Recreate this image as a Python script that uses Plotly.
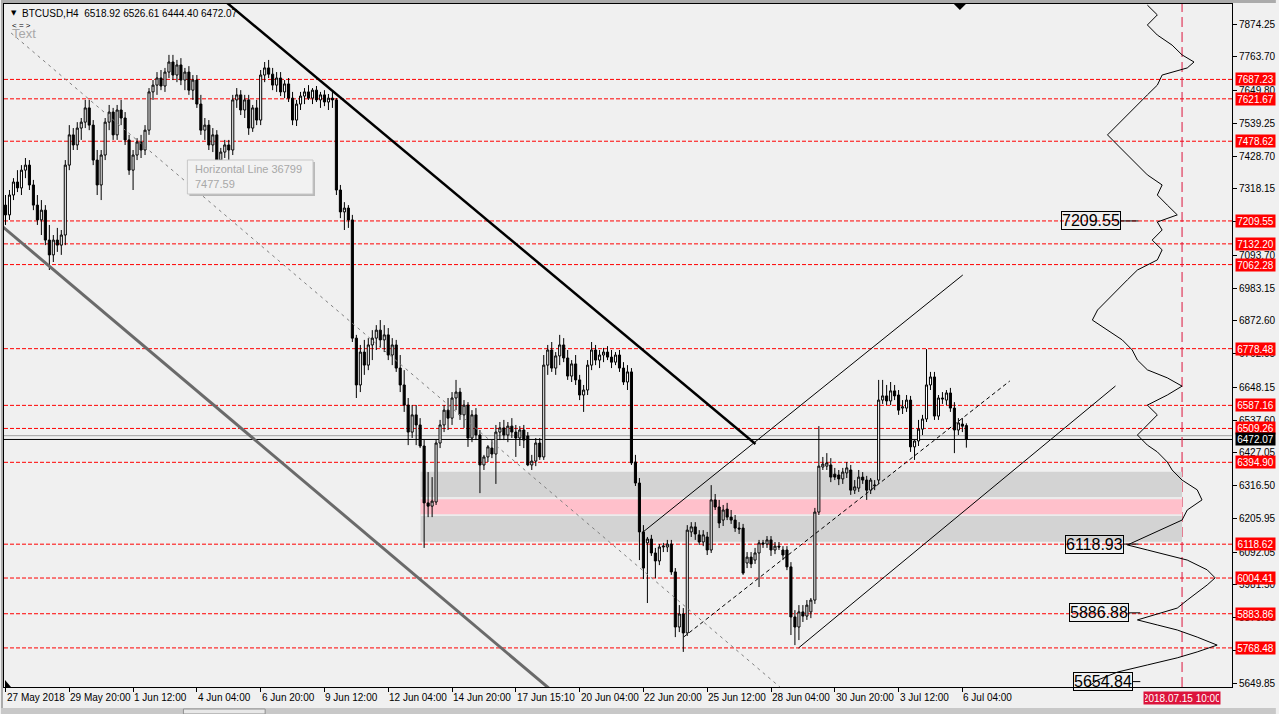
import plotly.graph_objects as go

# ---------------- data (BTCUSD H4 candles) ----------------
bar_open = [7263,7230,7297,7341,7321,7381,7398,7331,7263,7213,7246,7145,7095,7145,7128,7162,7398,7500,7466,7523,
            7543,7591,7533,7415,7331,7432,7543,7577,7500,7584,7557,7483,7381,7432,7476,7449,7516,7645,7668,7692,
            7665,7712,7746,7702,7736,7685,7712,7651,7685,7604,7516,7533,7466,7500,7415,7442,7466,7449,7618,7635,
            7584,7618,7523,7591,7550,7702,7726,7705,7668,7692,7645,7672,7624,7550,7604,7631,7645,7624,7651,7618,
            7635,7611,7624,7618,7314,7240,7253,7213,6814,6656,6767,6723,6791,6814,6841,6808,6825,6757,6791,6713,
            6656,6588,6497,6555,6521,6450,6258,6247,6261,6460,6521,6571,6544,6612,6632,6555,6588,6477,6555,6487,
            6386,6413,6443,6423,6497,6511,6487,6517,6497,6477,6504,6484,6386,6399,6460,6413,6723,6774,6713,6754,
            6791,6747,6686,6727,6673,6622,6639,6723,6774,6740,6757,6767,6750,6733,6757,6713,6666,6700,6396,6325,
            6160,6123,6136,6089,6062,6109,6109,6119,6025,5839,5883,5819,6160,6177,6150,6126,6143,6099,6268,6244,
            6200,6237,6210,6200,6173,6173,6055,6075,6065,6089,6123,6119,6133,6099,6112,6099,6099,6042,5873,5839,
            5890,5876,5890,5930,6227,6379,6382,6386,6355,6352,6339,6359,6369,6301,6308,6345,6335,6301,6315,6335,
            6605,6619,6602,6636,6622,6578,6578,6605,6447,6467,6507,6541,6656,6683,6551,6612,6605,6629,6578,6504,
            6524,6518.92]
bar_high = [7297,7314,7354,7381,7398,7422,7415,7348,7297,7280,7263,7196,7162,7186,7179,7415,7533,7523,7543,7557,
            7618,7618,7550,7449,7449,7557,7601,7591,7601,7618,7577,7500,7449,7489,7500,7533,7658,7685,7712,7719,
            7726,7770,7770,7753,7759,7726,7732,7702,7702,7635,7557,7550,7523,7516,7456,7483,7483,7635,7658,7651,
            7635,7635,7601,7618,7719,7746,7753,7726,7712,7712,7685,7692,7645,7618,7645,7658,7668,7658,7665,7645,
            7651,7638,7645,7624,7331,7273,7263,7230,6825,6791,6808,6814,6841,6858,6875,6858,6848,6814,6808,6757,
            6706,6612,6588,6588,6544,6470,6362,6345,6470,6538,6588,6612,6632,6673,6646,6605,6598,6571,6578,6504,
            6420,6453,6470,6521,6531,6538,6531,6544,6521,6517,6521,6497,6420,6477,6477,6757,6791,6801,6767,6825,
            6814,6774,6740,6757,6690,6656,6740,6801,6791,6774,6781,6787,6774,6767,6774,6733,6723,6713,6420,6342,
            6183,6143,6150,6106,6119,6123,6133,6133,6038,5913,5903,6183,6193,6193,6166,6166,6160,6318,6288,6268,
            6251,6258,6234,6217,6193,6187,6092,6092,6106,6133,6133,6146,6146,6126,6126,6112,6112,6058,5896,5913,
            5913,5930,5937,6241,6517,6413,6426,6409,6376,6369,6376,6396,6386,6335,6369,6362,6349,6342,6335,6673,
            6673,6656,6666,6656,6639,6605,6622,6619,6470,6538,6555,6777,6700,6700,6622,6632,6639,6646,6598,6544,
            6544,6526.61]
bar_low = [7196,7213,7280,7307,7297,7354,7314,7246,7196,7162,7128,7044,7071,7105,7095,7128,7381,7449,7449,7483,
           7523,7516,7398,7297,7280,7415,7516,7483,7483,7533,7466,7365,7314,7415,7422,7432,7500,7618,7635,7651,
           7645,7692,7685,7678,7668,7651,7635,7618,7591,7500,7483,7449,7442,7398,7365,7422,7408,7432,7591,7567,
           7557,7500,7510,7533,7533,7678,7692,7651,7645,7631,7624,7611,7533,7530,7584,7604,7618,7604,7611,7591,
           7597,7584,7591,7297,7219,7179,7186,6801,6612,6632,6690,6706,6740,6774,6781,6767,6740,6723,6700,6632,
           6565,6453,6477,6453,6443,6106,6210,6210,6251,6443,6497,6504,6521,6571,6538,6511,6447,6463,6470,6291,
           6369,6396,6409,6322,6470,6470,6463,6477,6413,6450,6443,6382,6369,6382,6403,6403,6690,6700,6690,6723,
           6733,6673,6666,6656,6605,6565,6622,6706,6723,6713,6733,6740,6713,6723,6700,6656,6639,6386,6315,6065,
           6001,5920,6079,6004,6048,6092,6092,6015,5805,5822,5755,5809,6143,6133,6116,6112,6082,6089,6234,6173,
           6180,6200,6187,6160,6153,6015,6038,6038,6052,5974,6106,6106,6079,6085,6099,6065,6031,5812,5778,5795,
           5856,5863,5869,5917,6217,6369,6369,6328,6335,6318,6322,6342,6285,6288,6295,6322,6268,6288,6301,6322,
           6592,6588,6588,6605,6555,6558,6565,6430,6403,6450,6487,6531,6639,6538,6538,6592,6588,6565,6426,6487,
           6497,6444.40]
bar_close = [7230,7297,7341,7321,7381,7398,7331,7263,7213,7246,7145,7095,7145,7128,7162,7398,7500,7466,7523,7543,
             7591,7533,7415,7331,7432,7543,7577,7500,7584,7557,7483,7381,7432,7476,7449,7516,7645,7668,7692,7665,
             7712,7746,7702,7736,7685,7712,7651,7685,7604,7516,7533,7466,7500,7415,7442,7466,7449,7618,7635,7584,
             7618,7523,7591,7550,7702,7726,7705,7668,7692,7645,7672,7624,7550,7604,7631,7645,7624,7651,7618,7635,
             7611,7624,7618,7314,7240,7253,7213,6814,6656,6767,6723,6791,6814,6841,6808,6825,6757,6791,6713,6656,
             6588,6497,6555,6521,6450,6258,6247,6264,6460,6521,6571,6544,6612,6632,6555,6588,6477,6555,6487,6386,
             6413,6447,6423,6497,6511,6487,6517,6497,6477,6504,6470,6386,6399,6460,6413,6723,6774,6713,6754,6791,
             6747,6686,6727,6673,6622,6639,6723,6774,6740,6757,6767,6750,6733,6757,6713,6666,6700,6393,6325,6160,
             6038,6136,6089,6062,6109,6112,6119,6025,5839,5883,5819,6166,6177,6153,6126,6150,6099,6268,6244,6190,
             6234,6210,6200,6173,6170,6021,6075,6052,6089,6123,6119,6133,6099,6112,6109,6082,6042,5873,5839,5890,
             5876,5913,5930,6227,6382,6389,6393,6345,6345,6339,6362,6376,6301,6312,6345,6335,6301,6335,6318,6605,
             6619,6602,6636,6619,6571,6582,6605,6447,6467,6507,6541,6656,6683,6551,6612,6609,6629,6578,6504,6528,
             6517,6472.07]

x_tick_idx = [0, 16, 32, 48, 64, 80, 96, 112, 128, 144, 160, 176, 192, 208, 224, 240]
x_tick_text = ["27 May 2018", "29 May 20:00", "1 Jun 12:00", "4 Jun 04:00", "6 Jun 20:00",
               "9 Jun 12:00", "12 Jun 04:00", "14 Jun 20:00", "17 Jun 15:10", "20 Jun 04:00",
               "22 Jun 20:00", "25 Jun 12:00", "28 Jun 04:00", "30 Jun 20:00", "3 Jul 12:00", "6 Jul 04:00"]
y_tick_vals = [7874.25, 7763.70, 7649.80, 7539.25, 7428.70, 7318.15, 7207.60, 7093.70, 6983.15,
               6872.60, 6762.05, 6648.15, 6537.60, 6427.05, 6316.50, 6205.95, 6092.05, 5981.50,
               5870.95, 5760.40, 5649.85]
level_prices = [7687.23, 7621.67, 7478.62, 7209.55, 7132.20, 7062.28, 6778.48, 6587.16,
                6509.26, 6394.90, 6118.62, 6004.41, 5883.86, 5768.48]
bid_price = 6472.07
ask_price = 6484.8
zone_outer = [6363.0, 6127.0]
zone_gap = [6278.0, 6214.0]
zone_inner = [6270.0, 6220.0]
zone_start_idx = 104.1
future_idx = 295.1
text_box_prices = [7209.55, 6118.93, 5886.88, 5654.84]

thick_line_x, thick_line_y = [48.9, 188.1], [8020.4, 6456.8]
gray_line_x, gray_line_y = [-1.1, 138.9], [7194.3, 5602.9]
gray_dash_x, gray_dash_y = [1.4, 195.1], [7843.9, 5626.5]
chan_top_x, chan_top_y = [159.6, 240.1], [6156.4, 7027.1]
chan_mid_x, chan_mid_y = [170.1, 251.9], [5805.4, 6669.4]
chan_low_x, chan_low_y = [198.9, 278.4], [5768.3, 6652.5]

profile_base_idx = 270.6
profile_price = [7938,7922,7905,7871,7837,7803,7770,7746,7726,7702,7668,7635,7601,7567,7533,7500,7466,7432,7398,
                 7365,7331,7297,7263,7230,7206,7179,7145,7112,7078,7044,7011,6977,6943,6909,6875,6842,6808,6774,
                 6740,6707,6680,6652,6622,6588,6555,6521,6487,6453,6430,6396,6369,6335,6302,6268,6234,6200,6133,
                 6116,6099,6082,6065,6032,6005,5981,5957,5930,5903,5883,5863,5846,5829,5805,5778,5755,5735,5711,
                 5687,5660,5636]
profile_volume = [15.8,17,18.3,15.8,18.3,22,24.5,27.5,25.8,19.5,18.3,15.8,13.3,10.8,8.3,5.8,8.3,10.8,13.3,15.8,
                  19.5,18.3,20.8,23.3,18.3,19.5,17,19.5,18.3,13.3,10.8,8.3,5.8,3.3,2,5.8,9.5,12,13.3,15.8,20.8,
                  24.5,20.8,15.8,18.3,15.8,13.3,15.8,18.3,20.8,22,24.5,28.3,29.5,25.8,24.5,13.3,10.8,15.8,20.8,
                  25.8,30.8,32.8,30.8,28.3,25.8,23.3,18.3,13.3,18.3,23.3,28.3,33.3,28.3,23.3,15.8,8.3,3.3,0.8]

# ---------------- layout helpers (pixel -> paper) ----------------
W, H = 1279, 714
PL, PR, PT, PB = 3, 1235, 4, 687
def xp(px):
    return (px - PL) / (PR - PL)
def yp(py):
    return (PB - py) / (PB - PT)

FONT = "Liberation Sans"
BG = "#F0F0F0"

fig = go.Figure()

fig.add_trace(go.Candlestick(
    x=list(range(len(bar_close))), open=bar_open, high=bar_high, low=bar_low, close=bar_close,
    increasing=dict(line=dict(color="black", width=1), fillcolor="white"),
    decreasing=dict(line=dict(color="black", width=1), fillcolor="black"),
    whiskerwidth=0, hoverinfo="skip", showlegend=False))

def add_line(xs, ys, color, width, dash="solid"):
    fig.add_trace(go.Scatter(x=xs, y=ys, mode="lines", line=dict(color=color, width=width, dash=dash),
                             hoverinfo="skip", showlegend=False))

add_line(gray_dash_x, gray_dash_y, "#808080", 1, "3px,4px")
add_line(gray_line_x, gray_line_y, "#6A6A6A", 3)
add_line(thick_line_x, thick_line_y, "black", 2.5)
add_line(chan_top_x, chan_top_y, "black", 1)
add_line(chan_mid_x, chan_mid_y, "black", 1, "4px,3px")
add_line(chan_low_x, chan_low_y, "black", 1)

fig.add_trace(go.Scatter(x=[profile_base_idx + v for v in profile_volume], y=profile_price, mode="lines",
                         line=dict(color="black", width=1), hoverinfo="skip", showlegend=False))

shapes = []
# zones
shapes.append(dict(type="rect", xref="x", yref="y", x0=zone_start_idx, x1=future_idx, y0=zone_outer[1], y1=zone_outer[0],
                   fillcolor="#D3D3D3", line=dict(width=0), layer="below"))
shapes.append(dict(type="rect", xref="x", yref="y", x0=zone_start_idx, x1=future_idx, y0=zone_gap[1], y1=zone_gap[0],
                   fillcolor="#ECECEC", line=dict(width=0), layer="below"))
shapes.append(dict(type="rect", xref="x", yref="y", x0=zone_start_idx, x1=future_idx, y0=zone_inner[1], y1=zone_inner[0],
                   fillcolor="#FFC0CB", line=dict(width=0), layer="below"))
# horizontal levels
for lv in level_prices:
    shapes.append(dict(type="line", xref="paper", yref="y", x0=0, x1=1, y0=lv, y1=lv,
                       line=dict(color="#FF0000", width=1, dash="4px,2px"), layer="below"))
shapes.append(dict(type="line", xref="paper", yref="y", x0=0, x1=1, y0=ask_price, y1=ask_price,
                   line=dict(color="#A0A0A0", width=1), layer="below"))
shapes.append(dict(type="line", xref="paper", yref="y", x0=0, x1=1, y0=bid_price, y1=bid_price,
                   line=dict(color="black", width=1), layer="below"))
# future separator
shapes.append(dict(type="line", xref="x", yref="paper", x0=future_idx, x1=future_idx, y0=0, y1=1,
                   line=dict(color="#DC143C", width=1, dash="10px,5px"), layer="below"))
# text box connectors
conn = [(1123, 1141), (1126, 1141), (1131, 1143), (1135, 1143)]
for (a, b), pr in zip(conn, text_box_prices):
    shapes.append(dict(type="line", xref="paper", yref="y", x0=xp(a), x1=xp(b), y0=pr, y1=pr,
                       line=dict(color="black", width=1)))
# tooltip box with shadow
shapes.append(dict(type="rect", xref="paper", yref="paper", x0=xp(189), x1=xp(315), y0=yp(196), y1=yp(162),
                   fillcolor="#B8B8B8", line=dict(width=0)))
shapes.append(dict(type="rect", xref="paper", yref="paper", x0=xp(187), x1=xp(313), y0=yp(194), y1=yp(160),
                   fillcolor="#F2F2F2", line=dict(color="#C8C8C8", width=1)))
# window chrome
shapes.append(dict(type="rect", xref="paper", yref="paper", x0=xp(0), x1=xp(1279), y0=yp(3), y1=yp(0),
                   fillcolor="#ABABAB", line=dict(width=0)))
shapes.append(dict(type="rect", xref="paper", yref="paper", x0=xp(0), x1=xp(2), y0=yp(714), y1=yp(0),
                   fillcolor="#ABABAB", line=dict(width=0)))
shapes.append(dict(type="rect", xref="paper", yref="paper", x0=xp(0), x1=xp(1279), y0=yp(714), y1=yp(708),
                   fillcolor="#C8C8C8", line=dict(width=0)))
shapes.append(dict(type="rect", xref="paper", yref="paper", x0=xp(183), x1=xp(265), y0=yp(714), y1=yp(709),
                   fillcolor="#E8E8E8", line=dict(color="#909090", width=1)))
# chart shift marker and bottom-left marker
shapes.append(dict(type="path", xref="paper", yref="paper",
                   path=f"M {xp(956)} {yp(4)} L {xp(968)} {yp(4)} L {xp(962)} {yp(10)} Z",
                   fillcolor="black", line=dict(width=0)))
shapes.append(dict(type="path", xref="paper", yref="paper",
                   path=f"M {xp(4)} {yp(680)} L {xp(4)} {yp(687)} L {xp(10)} {yp(687)} Z",
                   fillcolor="black", line=dict(width=0)))

ann = []
# x labels
for i, t in zip(x_tick_idx, x_tick_text):
    ann.append(dict(x=i, xref="x", y=0, yref="paper", yshift=-10, xshift=-1, xanchor="left", yanchor="middle",
                    text=t, showarrow=False, font=dict(family=FONT, size=10, color="black")))
# red level labels
for lv in level_prices:
    ann.append(dict(x=1, xref="paper", y=lv, yref="y", xanchor="left", xshift=3, yanchor="middle",
                    text=f"{lv:.2f}", showarrow=False, font=dict(family=FONT, size=10, color="white"),
                    bgcolor="#FF0000", borderpad=1, width=37, height=10))
ann.append(dict(x=1, xref="paper", y=bid_price, yref="y", xanchor="left", xshift=3, yanchor="middle",
                text=f"{bid_price:.2f}", showarrow=False, font=dict(family=FONT, size=10, color="white"),
                bgcolor="black", borderpad=1, width=37, height=10))
ann.append(dict(x=future_idx, xref="x", y=0, yref="paper", yshift=-11, xanchor="center", yanchor="middle",
                text="2018.07.15 10:00", showarrow=False, font=dict(family=FONT, size=10, color="white"),
                bgcolor="#DC143C", borderpad=1, width=74, height=10))
# text boxes
box_centers = [1094, 1097, 1101.5, 1106]
for cx, pr in zip(box_centers, text_box_prices):
    ann.append(dict(x=xp(cx), xref="paper", y=pr, yref="y", xanchor="center", yanchor="middle",
                    text=f"{pr:.2f}", showarrow=False, font=dict(family=FONT, size=16, color="black"),
                    bordercolor="black", borderwidth=1, borderpad=0))
# header
ann.append(dict(x=xp(8), xref="paper", y=yp(13), yref="paper", xanchor="left", yanchor="middle",
                text="▼", showarrow=False, font=dict(family="DejaVu Sans", size=7, color="black")))
ann.append(dict(x=xp(19), xref="paper", y=yp(13), yref="paper", xanchor="left", yanchor="middle",
                text="BTCUSD,H4  6518.92 6526.61 6444.40 6472.07", showarrow=False,
                font=dict(family=FONT, size=10, color="black")))
ann.append(dict(x=xp(9), xref="paper", y=yp(34), yref="paper", xanchor="left", yanchor="middle",
                text="Text", showarrow=False, font=dict(family=FONT, size=13, color="#A8A8A8")))
ann.append(dict(x=xp(9), xref="paper", y=yp(26), yref="paper", xanchor="left", yanchor="middle",
                text="&lt; = &gt;", showarrow=False, font=dict(family=FONT, size=8, color="black")))
# tooltip text
ann.append(dict(x=xp(193), xref="paper", y=yp(169), yref="paper", xanchor="left", yanchor="middle",
                text="Horizontal Line 36799", showarrow=False, font=dict(family=FONT, size=11, color="#A8A8A8")))
ann.append(dict(x=xp(193), xref="paper", y=yp(184), yref="paper", xanchor="left", yanchor="middle",
                text="7477.59", showarrow=False, font=dict(family=FONT, size=11, color="#A8A8A8")))

fig.update_layout(
    width=W, height=H, autosize=False,
    margin=dict(l=PL, r=W - PR, t=PT, b=H - PB, pad=0),
    paper_bgcolor=BG, plot_bgcolor=BG,
    showlegend=False, boxgap=0.25,
    shapes=shapes, annotations=ann,
    xaxis=dict(range=[-0.375, 307.625], showgrid=False, zeroline=False, showline=True, mirror=True,
               linecolor="black", linewidth=1, ticks="outside", ticklen=4, tickcolor="black",
               tickvals=x_tick_idx, showticklabels=False, rangeslider=dict(visible=False), fixedrange=True),
    yaxis=dict(range=[5636.6, 7941.75], side="right", showgrid=False, zeroline=False, showline=True,
               mirror=True, linecolor="black", linewidth=1, ticks="outside", ticklen=4, tickcolor="black",
               tickvals=y_tick_vals, ticktext=[f"{v:.2f}" for v in y_tick_vals],
               tickfont=dict(family=FONT, size=10, color="black"), fixedrange=True),
)

fig.write_html("out.html", config={"displayModeBar": False},
               post_script="document.body.style.margin='0px';document.body.style.overflow='hidden';")
